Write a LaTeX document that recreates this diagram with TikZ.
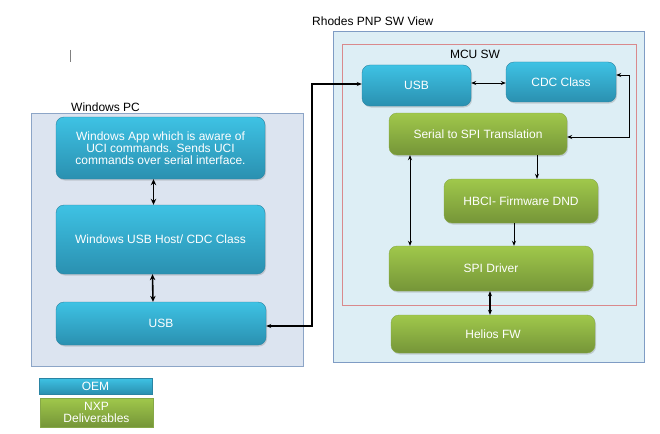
\documentclass[tikz,border=0pt]{standalone}
\usepackage{fontspec}
\setmainfont{Liberation Sans}
\usetikzlibrary{arrows.meta,shadows,positioning}
\definecolor{oemtop}{HTML}{3EC2E4}
\definecolor{oembot}{HTML}{2A90B0}
\definecolor{oemline}{HTML}{2A84A3}
\definecolor{nxptop}{HTML}{A0C84B}
\definecolor{nxpbot}{HTML}{759538}
\definecolor{nxpline}{HTML}{86A847}
\definecolor{pcfill}{HTML}{DCE4F0}
\definecolor{pcline}{HTML}{8CA5C7}
\definecolor{rhfill}{HTML}{DDEEF5}
\definecolor{rhline}{HTML}{7F9CC4}
\definecolor{mculine}{HTML}{D9898C}
\begin{document}
\begin{tikzpicture}[x=1pt,y=-1pt,
  txt/.style={font=\fontsize{12}{11.8}\selectfont},
  oem/.style={txt, rounded corners=8pt, top color=oemtop, bottom color=oembot,
    draw=oemline, thin, text=white, align=center, inner sep=0pt,
    drop shadow={opacity=0.3, shadow xshift=1pt, shadow yshift=-1.5pt}},
  nxp/.style={oem, top color=nxptop, bottom color=nxpbot, draw=nxpline},
  key/.style={txt, top color=#1top, bottom color=#1bot, draw=#1line, thin,
    text=white, align=center, inner sep=0pt,
    drop shadow={opacity=0.3, shadow xshift=1pt, shadow yshift=-1pt}},
  link/.style={{Stealth[length=5pt,width=4pt]}-{Stealth[length=5pt,width=4pt]}, line width=0.7pt},
  flow/.style={-{Stealth[length=5pt,width=4pt]}, line width=0.7pt},
  fat/.style={line width=1.6pt, {Stealth[length=6pt,width=5.5pt]}-{Stealth[length=6pt,width=5.5pt]}}]
  \useasboundingbox (0,0) rectangle (660,433);
  % containers
  \draw[fill=pcfill, draw=pcline] (31,113) rectangle (303,366);
  \draw[fill=rhfill, draw=rhline] (333,31) rectangle (644,362);
  \draw[draw=mculine] (342,44) rectangle (636,305);
  \node (pc) [txt, inner sep=0pt, anchor=base west] at (71,111) {Windows PC};
  \node (rh) [txt, inner sep=0pt, anchor=base west] at (312,26) {Rhodes PNP SW View};
  \node (mcu) [txt] at (475,54) {MCU SW};
  \draw[gray, line width=0.8pt] (70,50) -- (70,62);
  % windows side
  \node (winapp) [oem, minimum width=209, minimum height=62] at (160.5,148)
    {Windows App which is aware of\\UCI commands. Sends UCI\\commands over serial interface.};
  \node (winhost) [oem, minimum width=209, minimum height=69] at (160.5,239.5) {Windows USB Host/ CDC Class};
  \node (winusb) [oem, minimum width=210, minimum height=43] at (161,323.5) {USB};
  % mcu side
  \node (usb) [oem, minimum width=109, minimum height=41] at (416.5,85.5) {USB};
  \node (cdc) [oem, minimum width=110, minimum height=40] at (561,82) {CDC Class};
  \node (serial) [nxp, minimum width=178, minimum height=42] at (478,134) {Serial to SPI Translation};
  \node (hbci) [nxp, minimum width=154, minimum height=44] at (521,201) {HBCI- Firmware DND};
  \node (spi) [nxp, minimum width=204, minimum height=45] at (491,268.5) {SPI Driver};
  \node (helios) [nxp, minimum width=204, minimum height=38] at (493,334) {Helios FW};
  % legend
  \node (keyoem) [key=oem, minimum width=113, minimum height=16] at (95.5,386) {OEM};
  \node (keynxp) [key=nxp, minimum width=113, minimum height=29] at (96.5,412.5) {NXP\\Deliverables};
  % connectors
  \coordinate (bend) at (312,84);
  \draw[fat] ([xshift=-7pt]winapp.south) -- ([xshift=-7pt]winhost.north);
  \draw[fat] ([xshift=-8pt]winhost.south) -- ([xshift=-8pt]winusb.north);
  \draw[link, line width=1.4pt] ([yshift=1.5pt]usb.west) -- ([yshift=1.5pt]usb.west -| bend) |- ([yshift=-2.5pt]winusb.east);
  \draw[link] (usb.east |- cdc.east) ++(0,1) -- ([yshift=-1pt]cdc.west);
  \draw[link] ([yshift=7pt]cdc.east) -- ++(13,0) |- ([yshift=-3pt]serial.east);
  \draw[flow] ([xshift=59pt]serial.south) -- ([xshift=59pt]serial.south |- hbci.north);
  \draw[flow] ([xshift=-7pt]hbci.south) -- ([xshift=-7pt]hbci.south |- spi.north);
  \draw[link] ([xshift=-68pt]serial.south) -- ([xshift=-68pt]serial.south |- spi.north);
  \draw[link, line width=1.1pt] ([xshift=-1pt]spi.south) -- ([xshift=-1pt]spi.south |- helios.north);
\end{tikzpicture}
\end{document}
